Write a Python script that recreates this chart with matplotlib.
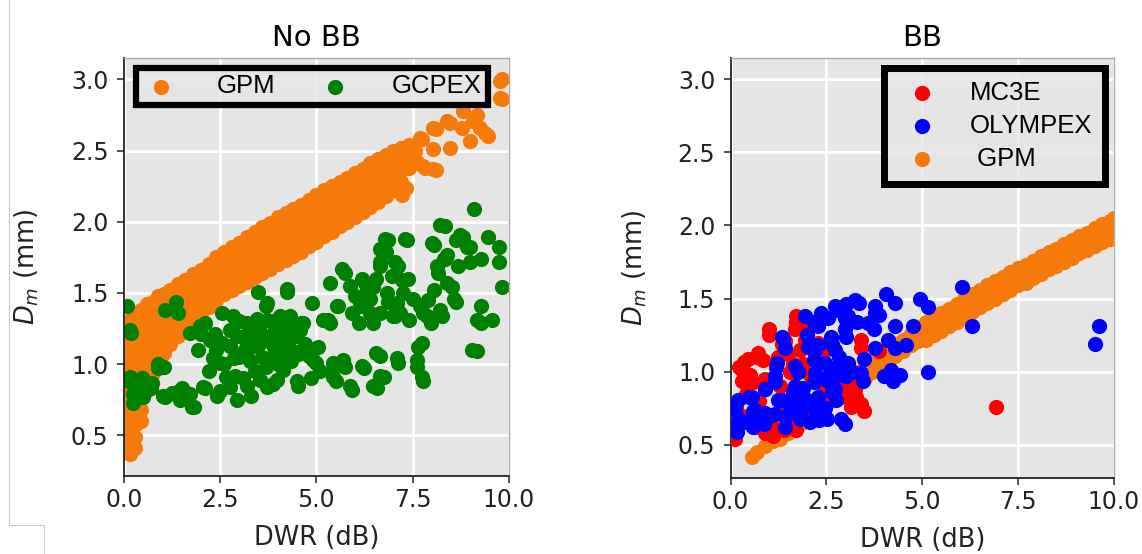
import matplotlib.pyplot as plt
from matplotlib.lines import Line2D

# GPM relation without bright band: x column -> Dm values in that column
gpm_nobb_cols = {
    0.03: [0.40, 0.48, 0.56, 0.64, 0.72, 0.80, 0.88, 0.96, 1.04, 1.12, 1.20, 1.28],
    0.15: [0.37, 0.45, 0.53, 0.61, 0.69, 0.77, 0.85, 0.93, 1.01, 1.09, 1.17, 1.25, 1.31],
    0.30: [0.41, 0.49, 0.57, 0.65, 0.73, 0.81, 0.89, 0.97, 1.05, 1.13, 1.21, 1.29, 1.35],
    0.45: [0.60, 0.68, 0.76, 0.84, 0.92, 1.00, 1.08, 1.16, 1.24, 1.32, 1.38],
    0.60: [0.82, 0.90, 0.98, 1.06, 1.14, 1.22, 1.30, 1.37, 1.42],
    0.75: [0.94, 1.02, 1.10, 1.18, 1.26, 1.34, 1.44],
    0.90: [1.02, 1.10, 1.18, 1.26, 1.34, 1.42, 1.48],
    1.05: [1.08, 1.16, 1.24, 1.32, 1.40, 1.49],
    1.20: [1.14, 1.22, 1.30, 1.38, 1.46, 1.52],
    1.40: [1.20, 1.28, 1.36, 1.44, 1.52, 1.56],
    1.60: [1.25, 1.33, 1.41, 1.49, 1.59],
    1.80: [1.31, 1.39, 1.47, 1.55, 1.63],
    2.00: [1.36, 1.44, 1.52, 1.60, 1.66],
    2.20: [1.40, 1.48, 1.56, 1.64, 1.70],
    2.40: [1.45, 1.53, 1.61, 1.69, 1.75],
    2.60: [1.49, 1.57, 1.65, 1.73, 1.79],
    2.80: [1.52, 1.60, 1.68, 1.76, 1.82],
    3.00: [1.55, 1.63, 1.71, 1.79, 1.85],
    3.20: [1.58, 1.66, 1.74, 1.82, 1.89],
    3.40: [1.61, 1.69, 1.77, 1.85, 1.93],
    3.60: [1.64, 1.72, 1.80, 1.88, 1.96],
    3.80: [1.67, 1.75, 1.83, 1.91, 1.99],
    4.00: [1.70, 1.78, 1.86, 1.94, 2.03],
    4.20: [1.73, 1.81, 1.89, 1.97, 2.06],
    4.40: [1.76, 1.84, 1.92, 2.00, 2.09],
    4.60: [1.79, 1.87, 1.95, 2.03, 2.12],
    4.80: [1.83, 1.91, 1.99, 2.07, 2.15],
    5.00: [1.86, 1.94, 2.02, 2.10, 2.19],
    5.20: [1.90, 1.98, 2.06, 2.14, 2.22],
    5.40: [1.93, 2.01, 2.09, 2.17, 2.25],
    5.60: [1.97, 2.05, 2.13, 2.21, 2.28],
    5.80: [2.00, 2.08, 2.16, 2.24, 2.31],
    6.00: [2.03, 2.11, 2.19, 2.27, 2.34],
    6.20: [2.07, 2.15, 2.23, 2.31, 2.37],
    6.40: [2.10, 2.18, 2.26, 2.34, 2.41],
    6.60: [2.14, 2.22, 2.30, 2.38, 2.44],
    6.80: [2.18, 2.26, 2.34, 2.42, 2.47],
    7.00: [2.22, 2.30, 2.38, 2.46, 2.50],
    7.20: [2.28, 2.36, 2.44, 2.52],
    7.40: [2.38, 2.46, 2.54],
}
gpm_nobb_tail = [
    (7.73, 2.58), (8.10, 2.65), (8.48, 2.69), (8.80, 2.78), (9.17, 2.75), (9.46, 2.60),
    (9.83, 3.00), (9.83, 2.86), (8.99, 2.57), (8.48, 2.52), (7.78, 2.39), (8.10, 2.36),
    (7.32, 2.24), (7.22, 2.19), (8.77, 2.66), (9.07, 2.71), (9.38, 2.62), (8.03, 2.66),
    (7.69, 2.59), (8.38, 2.71), (8.03, 2.51), (7.82, 2.38), (8.03, 2.37), (7.17, 2.26),
    (9.77, 2.99), (9.77, 2.87), (7.55, 2.50), (7.60, 2.42), (9.25, 2.66),
]

gcpex = [
    (0.09, 1.41), (0.19, 1.22), (0.14, 0.88), (0.28, 0.83), (0.23, 0.73), (0.47, 0.90),
    (0.70, 0.83), (0.89, 0.97), (1.03, 0.98), (1.07, 1.38), (1.35, 1.44), (1.40, 1.36),
    (1.07, 0.77), (1.44, 0.81), (1.58, 0.76), (1.82, 0.70), (1.72, 1.22), (2.00, 1.21),
    (2.10, 1.29), (2.38, 1.21), (2.56, 1.36), (2.84, 1.34), (2.10, 0.83), (2.42, 0.78),
    (2.66, 0.91), (2.94, 0.75), (3.31, 0.78), (3.49, 1.51), (4.24, 1.51), (3.68, 1.41),
    (3.87, 0.86), (4.52, 0.85), (3.26, 1.24), (3.49, 1.16), (3.12, 1.09), (3.87, 1.29),
    (4.24, 1.19), (4.05, 1.06), (4.61, 1.29), (4.80, 1.06), (4.99, 1.01), (5.45, 0.98),
    (5.73, 0.98), (5.50, 0.88), (5.92, 0.82), (6.24, 0.97), (6.57, 0.83), (6.66, 1.06),
    (6.76, 0.91), (7.13, 1.01), (7.60, 0.98), (7.64, 1.12), (7.78, 0.88), (5.73, 1.64),
    (5.36, 1.29), (5.55, 1.41), (5.92, 1.36), (6.10, 1.46), (6.48, 1.54), (6.66, 1.69),
    (6.85, 1.87), (6.80, 1.79), (7.13, 1.69), (7.36, 1.87), (7.22, 1.59), (6.85, 1.44),
    (7.04, 1.34), (7.41, 1.31), (7.97, 1.29), (7.78, 1.36), (8.06, 1.84), (8.34, 1.97),
    (8.62, 1.87), (8.81, 1.89), (9.09, 2.09), (8.90, 1.82), (8.99, 1.72), (8.34, 1.74),
    (8.16, 1.64), (8.53, 1.54), (8.62, 1.44), (8.25, 1.34), (9.27, 1.41), (9.27, 1.29),
    (9.55, 1.31), (9.18, 1.09), (9.46, 1.89), (9.74, 1.82), (9.74, 1.72), (9.83, 1.54),
    (9.27, 1.74), (8.67, 1.69), (6.10, 1.29), (6.38, 1.36), (6.48, 1.29),
    (4.23, 1.53), (4.88, 1.43), (5.53, 1.41), (5.66, 1.67), (5.35, 1.57), (5.87, 1.55),
    (6.18, 1.60), (6.26, 1.57), (6.65, 1.72), (7.04, 1.72), (6.78, 1.88), (7.30, 1.88),
    (6.65, 1.81), (6.00, 1.48), (6.13, 1.41), (6.39, 1.46), (6.65, 1.36), (6.83, 1.50),
    (7.08, 1.43), (7.38, 1.60), (7.51, 1.46), (7.68, 1.41), (7.86, 1.34), (7.17, 1.36),
    (7.00, 1.34), (5.18, 1.31), (5.30, 1.31), (4.31, 1.31), (4.40, 1.20), (4.57, 1.24),
    (4.06, 1.34), (4.23, 1.15), (4.53, 1.07), (4.92, 1.03), (5.44, 1.01), (5.70, 1.03),
    (6.18, 0.99), (6.56, 1.08), (7.08, 1.04), (7.60, 1.03), (7.73, 1.15), (7.73, 0.91),
    (6.65, 0.92), (6.48, 0.85), (5.87, 0.85), (5.44, 0.91), (4.49, 0.88), (8.21, 1.98),
    (7.99, 1.85), (8.30, 1.74), (8.73, 1.91), (8.99, 1.82), (8.12, 1.69), (8.38, 1.57),
    (8.56, 1.46), (8.21, 1.38), (9.03, 1.10), (9.16, 1.31), (8.38, 1.77),
    (0.16, 1.24), (0.90, 1.00), (1.05, 0.98), (0.16, 0.91), (0.46, 0.90), (0.72, 0.87),
    (0.25, 0.79), (0.50, 0.77), (1.03, 0.78), (1.50, 0.83), (1.72, 0.79), (1.46, 0.75),
    (1.76, 0.70), (1.98, 1.27), (1.93, 1.10), (2.24, 1.17), (2.32, 1.04), (2.50, 1.01),
    (2.06, 0.84), (2.50, 0.81), (2.76, 0.84), (2.76, 1.13), (2.93, 1.20), (2.85, 1.04),
    (3.28, 1.02), (3.28, 1.27), (3.54, 1.15), (3.80, 1.20), (4.06, 1.29), (4.32, 1.34),
    (3.71, 1.31), (3.19, 1.29), (3.10, 0.90), (3.54, 0.89), (3.71, 0.84), (3.97, 0.89),
    (4.40, 1.09), (4.14, 0.96), (4.14, 1.15), (4.49, 1.20), (4.66, 1.29), (3.71, 1.43),
    (2.76, 1.24), (3.00, 1.05), (3.30, 1.12), (3.60, 1.05), (3.90, 1.12), (4.10, 1.22),
    (3.40, 0.95), (3.70, 0.98), (4.00, 1.00), (3.20, 0.85), (2.90, 0.92), (3.50, 1.25),
    (3.90, 1.30), (4.30, 1.25), (2.60, 1.00), (2.20, 0.95), (2.40, 1.10), (3.00, 1.30),
    (3.15, 1.18), (3.62, 1.20), (3.85, 1.05), (4.35, 1.02), (3.45, 1.32), (2.55, 1.15),
    (4.70, 1.14), (5.05, 1.12), (6.30, 1.50), (6.55, 1.60), (7.25, 1.50), (7.90, 1.45),
    (6.95, 1.62), (8.05, 1.52), (5.10, 0.95), (4.85, 0.90), (1.25, 0.80), (0.60, 0.82),
]

# GPM relation with bright band
gpm_bb_cols = {
    0.55: [0.42], 0.70: [0.45], 0.90: [0.49], 1.10: [0.53],
    1.30: [0.54, 0.60], 1.50: [0.58, 0.64], 1.70: [0.62, 0.68], 1.90: [0.66, 0.72],
    2.10: [0.70, 0.76], 2.30: [0.74, 0.80], 2.50: [0.77, 0.83], 2.70: [0.81, 0.87],
    2.90: [0.85, 0.91], 3.10: [0.88, 0.96], 3.30: [0.92, 1.00], 3.50: [0.96, 1.04],
    3.70: [1.00, 1.08], 3.90: [1.04, 1.12], 4.10: [1.07, 1.15], 4.30: [1.11, 1.19],
    4.50: [1.14, 1.22], 4.70: [1.18, 1.26], 4.90: [1.21, 1.29],
    5.10: [1.22, 1.28, 1.34], 5.30: [1.25, 1.31, 1.37], 5.50: [1.28, 1.34, 1.40],
    5.70: [1.31, 1.37, 1.43], 5.90: [1.34, 1.40, 1.46], 6.10: [1.38, 1.44, 1.50],
    6.30: [1.41, 1.47, 1.53], 6.50: [1.44, 1.50, 1.56], 6.70: [1.47, 1.53, 1.59],
    6.90: [1.50, 1.56, 1.62], 7.10: [1.53, 1.59, 1.65], 7.30: [1.56, 1.62, 1.68],
    7.50: [1.59, 1.65, 1.71], 7.70: [1.61, 1.67, 1.73], 7.90: [1.64, 1.70, 1.76],
    8.10: [1.67, 1.73, 1.79], 8.30: [1.70, 1.76, 1.82], 8.50: [1.72, 1.78, 1.84],
    8.70: [1.75, 1.81, 1.87], 8.90: [1.78, 1.84, 1.90], 9.10: [1.81, 1.87, 1.93],
    9.30: [1.83, 1.89, 1.95], 9.50: [1.86, 1.92, 1.98], 9.70: [1.89, 1.95, 2.01],
    9.90: [1.91, 1.97, 2.03], 10.00: [1.93, 1.99, 2.05],
}

mc3e = [
    (1.00, 1.25), (1.71, 1.34), (1.80, 1.30), (1.43, 1.21), (2.27, 1.20), (3.40, 1.16),
    (3.87, 1.14), (6.92, 0.76), (3.49, 0.73), (3.26, 0.83), (3.07, 0.88), (1.10, 0.56),
    (0.11, 0.54), (0.21, 1.03), (0.35, 1.07), (0.68, 1.10), (0.58, 0.93), (1.71, 0.60),
    (1.62, 1.05), (2.08, 0.98), (2.65, 0.83), (3.02, 0.84), (1.00, 1.29), (0.72, 1.13),
    (0.46, 1.09), (0.29, 1.01), (0.29, 0.94), (0.85, 1.08), (1.72, 1.38), (1.68, 1.29),
    (1.33, 1.19), (1.94, 1.22), (2.20, 1.10), (2.46, 1.15), (2.63, 0.99), (3.07, 0.94),
    (3.24, 0.88), (2.89, 0.83), (3.41, 0.78), (3.15, 0.76), (3.41, 1.22), (1.59, 0.76),
    (1.07, 0.63), (1.59, 0.67), (0.11, 0.60), (0.11, 0.58), (1.50, 1.12), (1.80, 1.15),
    (1.55, 1.00), (1.90, 1.05), (2.00, 1.28), (1.25, 1.10), (0.90, 0.95), (0.50, 0.98),
    (0.40, 0.85), (0.15, 0.75), (0.30, 0.70), (0.60, 0.62), (1.30, 0.90), (2.40, 0.90),
    (2.80, 0.95), (3.20, 1.00), (2.20, 0.80), (1.20, 0.72), (0.75, 0.80), (2.90, 1.05),
    (1.40, 0.60), (0.90, 0.58), (2.00, 0.70),
]

olympex = [
    (6.03, 1.58), (4.06, 1.53), (4.29, 1.47), (4.95, 1.50), (5.14, 1.44), (4.76, 1.31),
    (4.29, 1.31), (6.31, 1.31), (9.60, 1.31), (9.50, 1.19), (5.14, 1.00), (4.43, 0.98),
    (4.24, 0.94), (4.01, 0.97), (4.57, 1.18), (4.29, 1.16), (3.73, 1.29), (3.78, 1.16),
    (3.49, 1.09), (3.45, 0.94), (2.98, 0.64), (2.74, 0.81), (3.78, 1.40), (3.87, 1.39),
    (3.35, 1.47), (3.02, 1.46), (2.98, 1.37), (3.31, 1.34), (2.79, 1.42), (2.55, 1.37),
    (2.18, 1.34), (2.27, 1.31), (1.99, 1.25), (2.65, 1.19), (3.02, 1.24), (2.84, 1.10),
    (2.27, 1.18), (2.18, 1.08), (1.38, 1.23), (1.43, 1.16), (1.19, 1.03), (1.76, 1.00),
    (2.65, 1.02), (3.02, 0.97), (3.16, 1.00), (1.43, 0.62), (1.80, 0.68), (2.08, 0.66),
    (2.32, 0.67), (2.51, 0.68), (0.16, 0.59), (0.11, 0.78), (0.21, 0.68), (0.49, 0.83),
    (0.58, 0.73), (0.39, 0.66), (0.77, 0.71), (0.91, 0.88), (1.15, 0.93), (1.24, 0.81),
    (1.62, 0.86), (1.90, 0.89), (2.18, 0.93), (2.46, 0.96), (2.84, 0.98), (1.52, 0.78),
    (1.99, 0.81), (2.27, 0.83), (2.65, 0.86), (1.71, 0.73), (1.15, 0.71), (0.86, 0.64),
    (0.58, 0.62), (1.33, 1.24), (1.20, 1.06), (1.16, 0.97), (0.90, 0.88), (0.55, 0.83),
    (0.20, 0.81), (0.11, 0.74), (0.20, 0.65), (0.64, 0.74), (0.90, 0.72), (1.33, 0.81),
    (1.68, 0.90), (1.68, 1.04), (2.02, 1.17), (2.20, 0.99), (1.94, 1.38), (2.37, 1.40),
    (2.72, 1.45), (3.07, 1.38), (3.24, 1.49), (3.76, 1.45), (3.59, 1.33), (2.98, 1.29),
    (2.63, 1.24), (2.20, 1.15), (2.72, 1.15), (2.89, 1.06), (2.46, 1.06), (2.55, 0.94),
    (3.07, 1.06), (3.41, 0.99), (4.10, 1.22), (4.19, 1.01), (2.72, 0.88), (1.85, 0.74),
    (2.20, 0.74), (2.46, 0.75), (1.42, 0.69), (1.68, 0.81), (2.89, 0.68), (0.64, 0.65),
    (0.99, 0.69),
]

ORANGE = '#f67a0a'
MS = 120
LEGEND_BG = (0.898, 0.898, 0.898, 0.8)


def expand(cols):
    xs, ys = [], []
    for x, col in cols.items():
        xs += [x] * len(col)
        ys += col
    return xs, ys


def unzip(pts):
    return [p[0] for p in pts], [p[1] for p in pts]


def style(ax, ylim):
    ax.set_facecolor('#e5e5e5')
    ax.set_axisbelow(True)
    ax.grid(True, color='white', linewidth=2.0)
    ax.set_xlim(0, 10)
    ax.set_ylim(*ylim)
    ax.set_xticks([0, 2.5, 5, 7.5, 10])
    ax.set_yticks([0.5, 1.0, 1.5, 2.0, 2.5, 3.0])
    ax.tick_params(direction='out', length=5, width=1.2, color='#333333',
                   labelsize=17, labelcolor='#222222')
    ax.tick_params(axis='x', pad=4)
    ax.tick_params(axis='y', pad=6)
    for s in ('left', 'bottom'):
        ax.spines[s].set_color('#222222')
        ax.spines[s].set_linewidth(1.3)
    for s in ('top', 'right'):
        ax.spines[s].set_color('#aaaaaa')
        ax.spines[s].set_linewidth(1.0)
    ax.set_xlabel('DWR (dB)', fontsize=18.5, color='#222222', labelpad=9)
    ax.set_ylabel(r'$D_m$ (mm)', fontsize=18.5, color='#222222')


def frame(leg, lw):
    f = leg.get_frame()
    f.set_alpha(None)
    f.set_facecolor(LEGEND_BG)
    f.set_edgecolor('black')
    f.set_linewidth(lw)


fig = plt.figure(figsize=(11.42, 5.54), dpi=100)
ax1 = fig.add_axes([0.1084, 0.1408, 0.3373, 0.7554])
ax2 = fig.add_axes([0.6397, 0.1372, 0.3357, 0.7590])

# left: no bright band
x, y = expand(gpm_nobb_cols)
tx, ty = unzip(gpm_nobb_tail)
ax1.scatter(x + tx, y + ty, s=MS, color=ORANGE, linewidths=0, label='GPM')
gx, gy = unzip(gcpex)
ax1.scatter(gx, gy, s=MS, color='green', linewidths=0, label='GCPEX')
style(ax1, (0.215, 3.153))
ax1.set_title('No BB', fontsize=21, pad=8)
ax1.yaxis.set_label_coords(-0.215, 0.5)
leg1 = ax1.legend(loc='upper left', bbox_to_anchor=(0.032, 0.975), ncol=2,
                  prop={'family': 'Liberation Sans', 'size': 18.5},
                  fancybox=False, borderpad=0.25, handlelength=1.4,
                  handletextpad=1.5, columnspacing=1.6, markerscale=1.0,
                  borderaxespad=0)
frame(leg1, 4.5)

# right: bright band
bx, by = expand(gpm_bb_cols)
h_gpm = ax2.scatter(bx, by, s=MS, color=ORANGE, linewidths=0, zorder=2, label=' GPM')
rx, ry = unzip(mc3e)
h_mc3e = ax2.scatter(rx, ry, s=MS, color='red', linewidths=0, zorder=3, label='MC3E')
ox, oy = unzip(olympex)
h_oly = ax2.scatter(ox, oy, s=MS, color='blue', linewidths=0, zorder=4, label='OLYMPEX')
style(ax2, (0.274, 3.148))
ax2.set_title('BB', fontsize=21, pad=8)
ax2.yaxis.set_label_coords(-0.212, 0.5)
leg2 = ax2.legend(handles=[h_mc3e, h_oly, h_gpm], loc='upper right',
                  bbox_to_anchor=(0.977, 0.975),
                  prop={'family': 'Liberation Sans', 'size': 18.5},
                  fancybox=False, borderpad=0.5, handlelength=2.0,
                  handletextpad=0.85, labelspacing=0.35, markerscale=1.0,
                  borderaxespad=0)
frame(leg2, 5)

# thin frame line along the left edge
W, H = 1142, 554
edge = dict(color='#c8c8c8', linewidth=0.8, transform=fig.transFigure)
fig.add_artist(Line2D([8.5 / W, 8.5 / W], [1, 1 - 525 / H], **edge))
fig.add_artist(Line2D([8.5 / W, 43.5 / W], [1 - 525 / H, 1 - 525 / H], **edge))
fig.add_artist(Line2D([43.5 / W, 43.5 / W], [1 - 525 / H, 0], **edge))

fig.savefig('out.png', dpi=100)
